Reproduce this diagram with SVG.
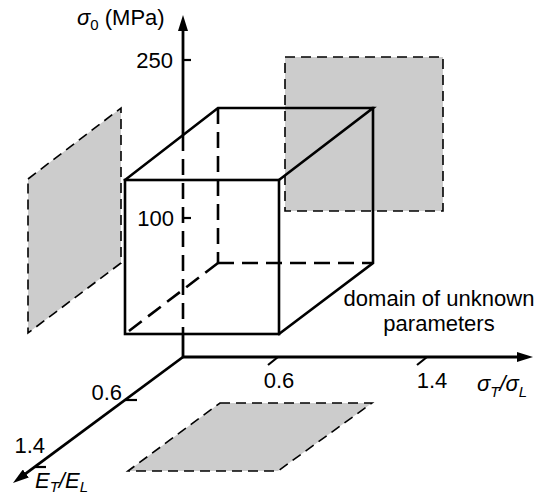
<svg xmlns="http://www.w3.org/2000/svg" width="541" height="498" viewBox="0 0 541 498">
<style>
  .t { font-family: "Liberation Sans", Arial, sans-serif; font-size: 22px; fill: #000; }
  .it { font-style: italic; }
  .sub { font-size: 15px; }
  .ax { stroke: #000; stroke-width: 2.8; fill: none; }
  .tick { stroke: #000; stroke-width: 2.2; fill: none; }
  .edge { stroke: #000; stroke-width: 2.6; fill: none; stroke-linecap: square; }
  .hid { stroke: #000; stroke-width: 2.6; fill: none; stroke-dasharray: 16 8; }
  .plane { fill: #cccccc; stroke: #000; stroke-width: 1.6; stroke-dasharray: 10 6; }
</style>
<defs>
  <marker id="arr" viewBox="0 0 16 10" markerWidth="16" markerHeight="10" markerUnits="userSpaceOnUse" refX="4" refY="5" orient="auto">
    <path d="M0,0 L16,5 L0,10 z" fill="#000"/>
  </marker>
</defs>
<rect width="541" height="498" fill="#fff"/>

<g id="plane-right"><rect class="plane" x="285" y="57" width="158" height="154"/></g>
<g id="plane-left"><polygon class="plane" points="28,179 121,108 121,263 28,333"/></g>
<g id="plane-bottom"><polygon class="plane" points="220,403 372,403 278,471 128,471"/></g>

<g id="connectors">
  <line class="ax" x1="183" y1="135" x2="183" y2="27" marker-end="url(#arr)"/>
  <line class="hid" x1="183" y1="135" x2="183" y2="334"/>
  <line class="ax" x1="183" y1="334" x2="183" y2="357"/>
  <line class="ax" x1="182" y1="357" x2="521" y2="357" marker-end="url(#arr)"/>
  <line class="ax" x1="183" y1="357" x2="22.6" y2="475.9" marker-end="url(#arr)"/>
  <line class="tick" x1="183" y1="60" x2="191" y2="60"/>
  <line class="tick" x1="183" y1="218" x2="191" y2="218"/>
  <line class="tick" x1="278" y1="357" x2="268" y2="365"/>
  <line class="tick" x1="427" y1="357" x2="417" y2="365"/>
  <line class="tick" x1="125" y1="400" x2="137" y2="400"/>
  <line class="tick" x1="35" y1="467" x2="46" y2="467"/>
</g>

<g id="cube">
  <line class="hid" x1="218" y1="108" x2="218" y2="263"/>
  <line class="hid" x1="218" y1="263" x2="373" y2="263"/>
  <line class="hid" x1="218" y1="263" x2="125" y2="334"/>
  <rect class="edge" x="125" y="180" width="154" height="154"/>
  <polyline class="edge" points="125,180 218,108 373,108 279,180"/>
  <polyline class="edge" points="373,108 373,263 279,334"/>
</g>

<g id="labels">
  <text class="t" x="77" y="25"><tspan class="it">σ</tspan><tspan class="sub" dy="5">0</tspan><tspan dy="-5"> (MPa)</tspan></text>
  <text class="t" x="173" y="68" text-anchor="end">250</text>
  <text class="t" x="174" y="226" text-anchor="end">100</text>
  <text class="t" x="279" y="388" text-anchor="middle">0.6</text>
  <text class="t" x="432" y="388" text-anchor="middle">1.4</text>
  <text class="t" x="477" y="391"><tspan class="it">σ</tspan><tspan class="sub it" dy="6">T</tspan><tspan class="it" dy="-6">/</tspan><tspan class="it">σ</tspan><tspan class="sub it" dy="6">L</tspan></text>
  <text class="t" x="122" y="400" text-anchor="end">0.6</text>
  <text class="t" x="45" y="453" text-anchor="end">1.4</text>
  <text class="t" x="35" y="488"><tspan class="it">E</tspan><tspan class="sub it" dy="4">T</tspan><tspan class="it" dy="-4">/E</tspan><tspan class="sub it" dy="4">L</tspan></text>
  <text class="t" x="439" y="306" text-anchor="middle">domain of unknown</text>
  <text class="t" x="439" y="331" text-anchor="middle">parameters</text>
</g>
</svg>
